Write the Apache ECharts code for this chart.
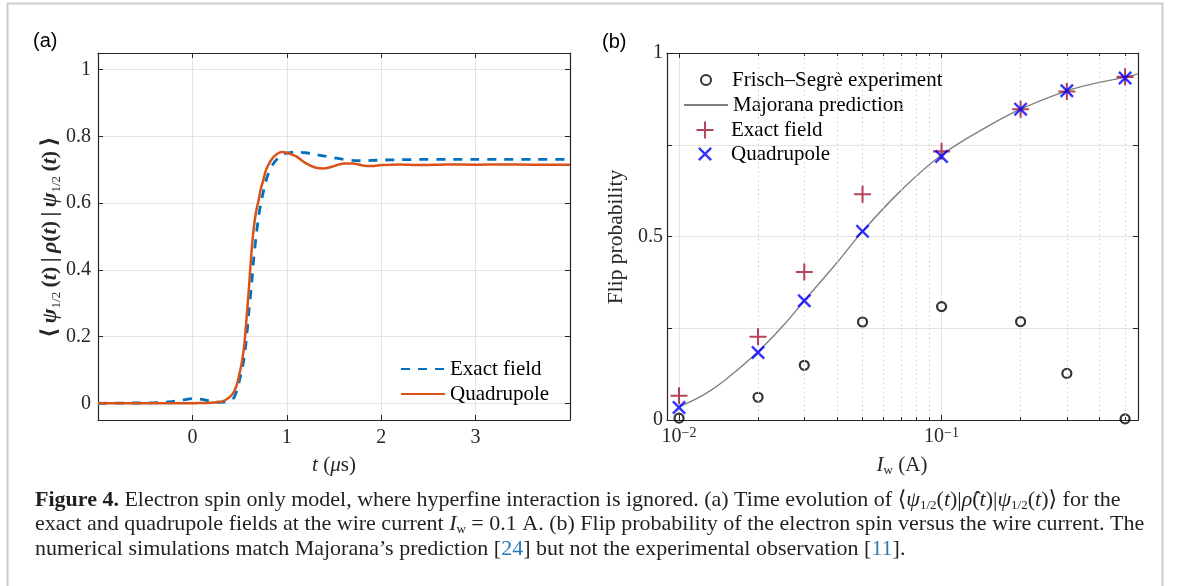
<!DOCTYPE html>
<html><head><meta charset="utf-8">
<script src="https://cdn.jsdelivr.net/npm/echarts@6/dist/echarts.min.js"></script>
<style>html,body{margin:0;padding:0;background:#fff}#c{width:1181px;height:586px}</style>
</head><body><div id="c"></div>
<script>
// ---------- Panel (a) data ----------
const tA = [-1, -0.6, -0.4, -0.25, -0.1, 0, 0.1, 0.2, 0.3, 0.35, 0.4, 0.425, 0.45, 0.475, 0.5, 0.525, 0.55, 0.575, 0.6, 0.625, 0.65, 0.675, 0.7, 0.725, 0.75, 0.775, 0.8, 0.85, 0.9, 0.95, 1.0, 1.1, 1.2, 1.3, 1.4, 1.5, 1.6, 1.7, 1.8, 1.9, 2.0, 2.2, 2.4, 2.7, 3.0, 3.3, 3.6, 4.0];
const exactA = [0, 0.001, 0.002, 0.004, 0.010, 0.014, 0.012, 0.006, 0.003, 0.004, 0.008, 0.012, 0.022, 0.042, 0.07, 0.10, 0.14, 0.20, 0.28, 0.35, 0.435, 0.50, 0.557, 0.60, 0.632, 0.662, 0.685, 0.715, 0.733, 0.744, 0.75, 0.753, 0.751, 0.746, 0.741, 0.736, 0.731, 0.728, 0.727, 0.728, 0.729, 0.73, 0.731, 0.731, 0.731, 0.731, 0.731, 0.731];
const quadA = [0, 0, 0, 0, 0, 0, 0.001, 0.002, 0.005, 0.01, 0.02, 0.028, 0.04, 0.06, 0.09, 0.125, 0.175, 0.26, 0.35, 0.45, 0.525, 0.575, 0.607, 0.643, 0.668, 0.695, 0.712, 0.735, 0.748, 0.753, 0.751, 0.74, 0.72, 0.707, 0.704, 0.711, 0.719, 0.719, 0.713, 0.711, 0.714, 0.716, 0.714, 0.716, 0.715, 0.716, 0.715, 0.715];
const xTicksA = [0, 1, 2, 3];
const yTicksA = [0, 0.2, 0.4, 0.6, 0.8, 1];

// ---------- Panel (b) data ----------
const currents = [0.01, 0.02, 0.03, 0.05, 0.1, 0.2, 0.3, 0.5];
const experiment = [0.005, 0.062, 0.149, 0.267, 0.309, 0.268, 0.127, 0.003];
const exactB = [0.066, 0.227, 0.403, 0.615, 0.732, 0.847, 0.895, 0.935];
const quadB = [0.034, 0.184, 0.325, 0.514, 0.718, 0.847, 0.897, 0.932];
const majoranaI = [0.01, 0.0125, 0.015, 0.02, 0.025, 0.03, 0.04, 0.05, 0.07, 0.1, 0.15, 0.2, 0.3, 0.4, 0.5, 0.56];
const majoranaP = [0.036, 0.07, 0.109, 0.186, 0.258, 0.325, 0.429, 0.514, 0.625, 0.722, 0.80, 0.847, 0.897, 0.92, 0.934, 0.943];
const minorI = [0.02, 0.03, 0.04, 0.05, 0.06, 0.07, 0.08, 0.09, 0.2, 0.3, 0.4, 0.5];
const xTicksB = [0.01, 0.1];
const yTicksB = [0, 0.5, 1];

const SERIF = '"Liberation Serif","DejaVu Serif",serif';
const SANS = '"Liberation Sans","DejaVu Sans",sans-serif';
const AX = '#262626';
const GRID = '#e4e4e4';
const CAP = '#231f20';
const CAPSIZE = 22;

const near = (v, arr) => arr.some(a => Math.abs(a - v) < 1e-6 * Math.max(1, Math.abs(a)));
const fmtNum = v => (Math.abs(v) < 1e-9 ? '0' : (Math.abs(v - Math.round(v)) < 1e-9 ? String(Math.round(v)) : v.toFixed(1)));

const PLUS = 'path://M-1.2,-10 L1.2,-10 L1.2,-1.2 L10,-1.2 L10,1.2 L1.2,1.2 L1.2,10 L-1.2,10 L-1.2,1.2 L-10,1.2 L-10,-1.2 L-1.2,-1.2 Z';
const CROSS = 'path://M-10,-7.6 L-7.6,-10 L0,-2.4 L7.6,-10 L10,-7.6 L2.4,0 L10,7.6 L7.6,10 L0,2.4 L-7.6,10 L-10,7.6 L-2.4,0 Z';

const labelMap = {
  exactA: 'Exact field', quadA: 'Quadrupole',
  fs: 'Frisch–Segrè experiment', maj: 'Majorana prediction',
  exactB: 'Exact field', quadB: 'Quadrupole'
};

function boxAxis(gridIndex, pos, extra) {
  return Object.assign({
    gridIndex, position: pos,
    axisLine: { show: true, onZero: false, lineStyle: { color: AX, width: 1.2 } },
    axisTick: { show: true, inside: true, length: 5, lineStyle: { color: AX, width: 1 } },
    axisLabel: { show: false },
    splitLine: { show: false }
  }, extra);
}

const chart = echarts.init(document.getElementById('c'), null, { renderer: 'canvas' });

const minorGrid = minorI.map(x => ({ xAxis: x, lineStyle: { type: [1.5, 3], color: '#cfcfcf', width: 1 } }));
const minorTicks = [];
minorI.forEach(x => {
  minorTicks.push([{ coord: [x, 0], lineStyle: { type: 'solid', color: AX, width: 1 } }, { coord: [x, 0.008] }]);
  minorTicks.push([{ coord: [x, 1], lineStyle: { type: 'solid', color: AX, width: 1 } }, { coord: [x, 0.992] }]);
});

const legendText = { fontFamily: SERIF, fontSize: 21, color: '#000', lineHeight: 22 };
const hideSym = { color: 'rgba(0,0,0,0)', borderWidth: 0, opacity: 0 };

function symLegend(name, size, top) {
  return {
    orient: 'vertical', left: 705 - size / 2, top, padding: 0, itemWidth: size, itemHeight: size,
    data: [name], formatter: n => labelMap[n], selectedMode: false,
    textStyle: Object.assign({}, legendText, { padding: [0, 0, 0, 731 - (705 + size / 2 + 5)] })
  };
}

const option = {
  animation: false,
  backgroundColor: '#fff',
  grid: [
    { left: 98, top: 53, width: 472, height: 367, containLabel: false },
    { left: 667, top: 53, width: 471, height: 367, containLabel: false }
  ],
  xAxis: [
    {
      gridIndex: 0, type: 'value', min: -1, max: 4, interval: 1, position: 'bottom',
      axisLine: { show: true, onZero: false, lineStyle: { color: AX, width: 1.2 } },
      axisTick: { show: true, inside: true, length: 5, lineStyle: { color: AX } },
      axisLabel: { margin: 8, fontFamily: SERIF, fontSize: 20, color: AX,
        formatter: v => near(v, xTicksA) ? fmtNum(v) : '' },
      splitLine: { show: true, lineStyle: { color: GRID, width: 1 } }
    },
    boxAxis(0, 'top', { type: 'value', min: -1, max: 4, interval: 1 }),
    {
      gridIndex: 1, type: 'log', logBase: 10, min: 0.009, max: 0.56, position: 'bottom',
      axisLine: { show: true, onZero: false, lineStyle: { color: AX, width: 1.2 } },
      axisTick: { show: true, inside: true, length: 5, lineStyle: { color: AX } },
      axisLabel: { margin: 6, color: AX, showMinLabel: true, showMaxLabel: true,
        formatter: v => {
          if (!near(v, xTicksB)) return '';
          const e = Math.round(Math.log10(v));
          return '{b|10}{p|−' + Math.abs(e) + '}';
        },
        rich: {
          b: { fontFamily: SERIF, fontSize: 20, color: AX, lineHeight: 22 },
          p: { fontFamily: SERIF, fontSize: 14, color: AX, lineHeight: 14, verticalAlign: 'top' }
        }
      },
      splitLine: { show: true, lineStyle: { color: GRID, width: 1 } }
    },
    boxAxis(1, 'top', { type: 'log', logBase: 10, min: 0.009, max: 0.56 })
  ],
  yAxis: [
    {
      gridIndex: 0, type: 'value', min: -0.05, max: 1.05, splitNumber: 5, position: 'left',
      axisLine: { show: true, onZero: false, lineStyle: { color: AX, width: 1.2 } },
      axisTick: { show: true, inside: true, length: 5, lineStyle: { color: AX } },
      axisLabel: { margin: 7, fontFamily: SERIF, fontSize: 20, color: AX,
        formatter: v => near(v, yTicksA) ? fmtNum(v) : '' },
      splitLine: { show: true, lineStyle: { color: GRID, width: 1 } }
    },
    boxAxis(0, 'right', { type: 'value', min: -0.05, max: 1.05, splitNumber: 5 }),
    {
      gridIndex: 1, type: 'value', min: 0, max: 1, interval: 0.25, position: 'left',
      axisLine: { show: true, onZero: false, lineStyle: { color: AX, width: 1.2 } },
      axisTick: { show: true, inside: true, length: 5, lineStyle: { color: AX } },
      axisLabel: { margin: 4, fontFamily: SERIF, fontSize: 20, color: AX,
        formatter: v => near(v, yTicksB) ? fmtNum(v) : '' },
      splitLine: { show: true, lineStyle: { color: GRID, width: 1 } }
    },
    boxAxis(1, 'right', { type: 'value', min: 0, max: 1, interval: 0.25 })
  ],
  legend: [
    {
      orient: 'vertical', left: 400, top: 358, padding: 0, itemWidth: 44, itemHeight: 14, itemGap: 3,
      data: ['exactA', 'quadA'], formatter: n => labelMap[n], textStyle: legendText,
      itemStyle: hideSym, selectedMode: false
    },
    symLegend('fs', 10, 69),
    { orient: 'vertical', left: 683, top: 94, padding: 0, itemWidth: 44, itemHeight: 14, data: ['maj'],
      formatter: n => labelMap[n], textStyle: legendText, itemStyle: hideSym, selectedMode: false },
    symLegend('exactB', 17, 119),
    symLegend('quadB', 14, 143)
  ],
  series: [
    {
      name: 'exactA', type: 'line', xAxisIndex: 0, yAxisIndex: 0,
      data: tA.map((t, i) => [t, exactA[i]]), symbol: 'none', smooth: 0.25,
      lineStyle: { color: '#0072BD', width: 2.8, type: [9, 8] }, itemStyle: { color: '#0072BD' }, z: 3
    },
    {
      name: 'quadA', type: 'line', xAxisIndex: 0, yAxisIndex: 0,
      data: tA.map((t, i) => [t, quadA[i]]), symbol: 'none', smooth: 0.25,
      lineStyle: { color: '#D95319', width: 2.5 }, itemStyle: { color: '#D95319' }, z: 4
    },
    {
      name: 'maj', type: 'line', xAxisIndex: 2, yAxisIndex: 2,
      data: majoranaI.map((x, i) => [x, majoranaP[i]]), symbol: 'none', smooth: 0.4,
      lineStyle: { color: '#808080', width: 1.4 }, itemStyle: { color: '#808080' }, z: 3,
      markLine: {
        silent: true, symbol: ['none', 'none'], label: { show: false }, animation: false,
        emphasis: { disabled: true },
        data: minorGrid.concat(minorTicks)
      }
    },
    {
      name: 'fs', type: 'scatter', xAxisIndex: 2, yAxisIndex: 2, clip: false,
      data: currents.map((x, i) => [x, experiment[i]]), symbol: 'circle', symbolSize: 9,
      itemStyle: { color: 'rgba(0,0,0,0)', borderColor: '#000', borderWidth: 2.2 }, z: 4
    },
    {
      name: 'exactB', type: 'scatter', xAxisIndex: 2, yAxisIndex: 2, clip: false,
      data: currents.map((x, i) => [x, exactB[i]]), symbol: PLUS, symbolSize: 17,
      itemStyle: { color: '#A2142F' }, z: 5
    },
    {
      name: 'quadB', type: 'scatter', xAxisIndex: 2, yAxisIndex: 2, clip: false,
      data: currents.map((x, i) => [x, quadB[i]]), symbol: CROSS, symbolSize: 14,
      itemStyle: { color: '#0000FF' }, z: 6
    }
  ],
  graphic: [
    { type: 'polyline', silent: true, shape: { points: [[7.5, 586], [7.5, 3.5], [1162.5, 3.5], [1162.5, 586]] },
      style: { stroke: '#cccccc', lineWidth: 2, fill: null } },
    { type: 'text', x: 33, y: 41, style: { text: '(a)', fontFamily: SANS, fontSize: 20, fill: '#000', align: 'left', verticalAlign: 'middle' } },
    { type: 'text', x: 602, y: 42, style: { text: '(b)', fontFamily: SANS, fontSize: 20, fill: '#000', align: 'left', verticalAlign: 'middle' } },
    { type: 'text', x: 50, y: 237, rotation: Math.PI / 2,
      style: {
        text: '{r|⟨\u2009}{i|ψ}{s|1/2}{r|\u2009(}{i|t}{r|)\u2009|\u2009}{i|ρ}{r|(}{i|t}{r|)\u2009|\u2009}{i|ψ}{s|1/2}{r|\u2009(}{i|t}{r|)\u2009⟩}',
        align: 'center', verticalAlign: 'middle', fill: AX,
        rich: {
          r: { fontFamily: SERIF, fontSize: 22, fontWeight: 'bold', fill: AX, lineHeight: 26 },
          i: { fontFamily: SERIF, fontSize: 22, fontWeight: 'bold', fontStyle: 'italic', fill: AX, lineHeight: 26 },
          s: { fontFamily: SERIF, fontSize: 13, fill: AX, lineHeight: 13, verticalAlign: 'bottom' }
        }
      } },
    { type: 'text', x: 334, y: 465,
      style: {
        text: '{i|t}{r| (}{i|μ}{r|s)}', align: 'center', verticalAlign: 'middle', fill: AX,
        rich: {
          r: { fontFamily: SERIF, fontSize: 21, fill: AX },
          i: { fontFamily: SERIF, fontSize: 21, fontStyle: 'italic', fill: AX }
        }
      } },
    { type: 'text', x: 616, y: 237, rotation: Math.PI / 2,
      style: { text: 'Flip probability', fontFamily: SERIF, fontSize: 21.5, fill: AX, align: 'center', verticalAlign: 'middle' } },
    { type: 'text', x: 902, y: 465,
      style: {
        text: '{i|I}{s|w}{r| (A)}', align: 'center', verticalAlign: 'middle', fill: AX,
        rich: {
          r: { fontFamily: SERIF, fontSize: 21, fill: AX, lineHeight: 24 },
          i: { fontFamily: SERIF, fontSize: 21, fontStyle: 'italic', fill: AX, lineHeight: 24 },
          s: { fontFamily: SERIF, fontSize: 13, fill: AX, lineHeight: 13, verticalAlign: 'bottom' }
        }
      } },
    { type: 'text', x: 35, y: 500,
      style: {
        text: '{b|Figure 4.}{n| Electron spin only model, where hyperfine interaction is ignored. (a) Time evolution of ⟨}{i|ψ}{s|1/2}{n|(}{i|t}{n|)|}{i|ρ̂}{n|(}{i|t}{n|)|}{i|ψ}{s|1/2}{n|(}{i|t}{n|)⟩ for the}',
        align: 'left', verticalAlign: 'middle',
        rich: {
          b: { fontFamily: SERIF, fontSize: CAPSIZE, fontWeight: 'bold', fill: CAP, lineHeight: 24 },
          n: { fontFamily: SERIF, fontSize: CAPSIZE, fill: CAP, lineHeight: 24 },
          i: { fontFamily: SERIF, fontSize: CAPSIZE, fontStyle: 'italic', fill: CAP, lineHeight: 24 },
          s: { fontFamily: SERIF, fontSize: 13, fill: CAP, lineHeight: 13, verticalAlign: 'bottom' }
        }
      } },
    { type: 'text', x: 35, y: 524,
      style: {
        text: '{n|exact and quadrupole fields at the wire current }{i|I}{s|w}{n| = 0.1 A. (b) Flip probability of the electron spin versus the wire current. The}',
        align: 'left', verticalAlign: 'middle',
        rich: {
          n: { fontFamily: SERIF, fontSize: CAPSIZE, fill: CAP, lineHeight: 24 },
          i: { fontFamily: SERIF, fontSize: CAPSIZE, fontStyle: 'italic', fill: CAP, lineHeight: 24 },
          s: { fontFamily: SERIF, fontSize: 13, fill: CAP, lineHeight: 13, verticalAlign: 'bottom' }
        }
      } },
    { type: 'text', x: 35, y: 549,
      style: {
        text: '{n|numerical simulations match Majorana’s prediction [}{c|24}{n|] but not the experimental observation [}{c|11}{n|].}',
        align: 'left', verticalAlign: 'middle',
        rich: {
          n: { fontFamily: SERIF, fontSize: CAPSIZE, fill: CAP, lineHeight: 24 },
          c: { fontFamily: SERIF, fontSize: CAPSIZE, fill: '#2a7ab9', lineHeight: 24 }
        }
      } }
  ]
};
chart.setOption(option);
</script>
</body></html>
